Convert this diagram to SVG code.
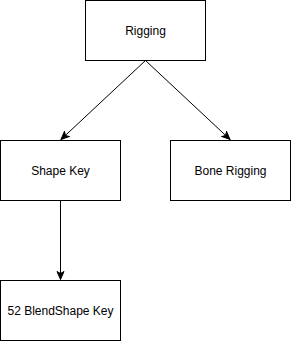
<svg xmlns="http://www.w3.org/2000/svg" width="291" height="341" viewBox="0 0 291 341">
<style>
.box{fill:#fff;stroke:#000;stroke-width:1}
.lbl{font-family:"Liberation Sans",Arial,sans-serif;font-size:12px;fill:#000;text-anchor:middle;dominant-baseline:central}
.edge{fill:none;stroke:#000;stroke-width:1}
</style>
<defs>
<marker id="arr" markerUnits="userSpaceOnUse" markerWidth="9" markerHeight="9" viewBox="0 0 9 9" refX="8.5" refY="4.5" orient="auto">
<path d="M8.5,4.5 L0.5,1 L2.5,4.5 L0.5,8 Z" fill="#000" stroke="#000" stroke-width="1" stroke-linejoin="miter"/>
</marker>
</defs>
<rect width="291" height="341" fill="#fff"/>
<g id="connectors">
<path class="edge" d="M145.5,60.5 L61,139.5" marker-end="url(#arr)"/>
<path class="edge" d="M145.5,60.5 L230,139.5" marker-end="url(#arr)"/>
<path class="edge" d="M60.5,200.5 L60.5,279.5" marker-end="url(#arr)"/>
</g>
<g id="rigging">
<rect class="box" x="85.5" y="0.5" width="120" height="60"/>
<text class="lbl" x="145.5" y="30.5">Rigging</text>
</g>
<g id="shape-key">
<rect class="box" x="0.5" y="140.5" width="120" height="60"/>
<text class="lbl" x="60.5" y="170.5">Shape Key</text>
</g>
<g id="bone-rigging">
<rect class="box" x="170.5" y="140.5" width="120" height="60"/>
<text class="lbl" x="230.5" y="170.5">Bone Rigging</text>
</g>
<g id="blendshape-key">
<rect class="box" x="0.5" y="280.5" width="120" height="60"/>
<text class="lbl" x="60.5" y="310.5">52 BlendShape Key</text>
</g>
</svg>
